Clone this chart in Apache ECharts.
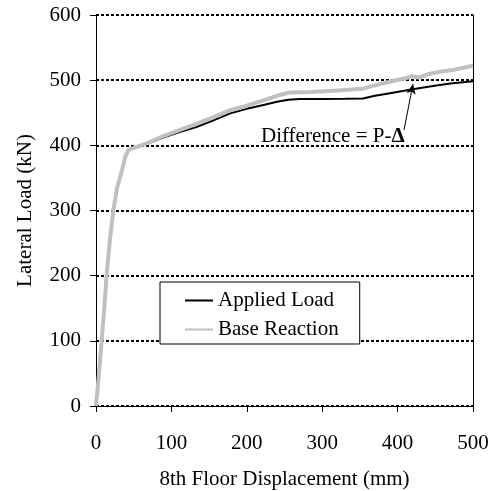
<!DOCTYPE html>
<html>
<head>
<meta charset="utf-8">
<script src="https://cdn.jsdelivr.net/npm/echarts@6/dist/echarts.min.js"></script>
<style>
  html, body { margin: 0; padding: 0; background: #fff; }
  #chart { width: 492px; height: 491px; }
</style>
</head>
<body>
<div id="chart"></div>
<script>
// Pushover response: lateral load vs. 8th floor displacement
const xTicks = [0, 100, 200, 300, 400, 500];
const yTicks = [0, 100, 200, 300, 400, 500, 600];

// [displacement (mm), load (kN)]
const appliedLoad = [
  [0, 0], [4, 50], [7.5, 100], [11, 150], [14, 200], [18, 250], [23, 300],
  [28, 335], [34, 360], [39, 383], [43, 393], [55, 397], [67, 402], [89, 412],
  [110, 420], [133, 428], [155, 438], [178, 449], [200, 456], [222, 462],
  [240, 467], [255, 470], [270, 471], [300, 471], [330, 471.5], [354, 472],
  [370, 476], [390, 480], [420, 486], [447, 491], [470, 495], [500, 498.5]
];

const baseReaction = [
  [0, 0], [4, 50], [7.5, 100], [11, 150], [14, 200], [18, 250], [23, 300],
  [28, 335], [34, 360], [39, 383], [43, 393], [55, 398], [67, 403], [89, 414],
  [110, 423], [133, 433], [155, 443], [178, 454], [200, 461], [222, 469],
  [240, 476], [257, 481], [284, 482], [320, 484], [354, 487], [370, 492],
  [395, 499], [410, 503], [420, 506], [427, 504], [440, 509], [456, 513],
  [475, 516], [500, 522]
];

// annotation arrow: from the label up to the gap between the curves
const arrowFrom = [408.5, 423.5];
const arrowTo = [420.4, 494];

const FONT = 'Liberation Serif';
const chart = echarts.init(document.getElementById('chart'));

chart.setOption({
  animation: false,
  backgroundColor: '#fff',
  textStyle: { fontFamily: FONT, color: '#000' },
  grid: { left: 96, right: 19, top: 15, bottom: 85, containLabel: false, outerBoundsMode: 'none' },
  legend: {
    left: 160, top: 282,
    orient: 'vertical',
    backgroundColor: '#fff',
    borderColor: '#000',
    borderWidth: 1,
    borderRadius: 0,
    padding: [8, 21, 4, 24],
    itemWidth: 28,
    itemHeight: 14,
    itemGap: 8,
    // line-only key: hide the marker drawn on top of the line sample
    itemStyle: { opacity: 0 },
    textStyle: { fontFamily: FONT, fontSize: 21, color: '#000' },
    data: ['Applied Load', 'Base Reaction']
  },
  xAxis: {
    type: 'value',
    min: xTicks[0], max: xTicks[xTicks.length - 1], interval: 100,
    name: '8th Floor Displacement (mm)',
    nameLocation: 'middle',
    nameGap: 63,
    nameTextStyle: { fontFamily: FONT, fontSize: 21, color: '#000' },
    axisLine: { show: true, onZero: false, lineStyle: { color: '#000', width: 1 } },
    axisTick: { show: true, inside: false, length: 6, lineStyle: { color: '#000' } },
    axisLabel: { fontFamily: FONT, fontSize: 21, color: '#000', margin: 27 },
    splitLine: { show: false }
  },
  yAxis: [{
    type: 'value',
    min: yTicks[0], max: yTicks[yTicks.length - 1], interval: 100,
    name: 'Lateral Load (kN)',
    nameLocation: 'middle',
    nameRotate: 90,
    nameGap: 60,
    nameTextStyle: { fontFamily: FONT, fontSize: 21, color: '#000' },
    axisLine: { show: true, lineStyle: { color: '#000', width: 1 } },
    axisTick: { show: true, inside: false, length: 6, lineStyle: { color: '#000' } },
    axisLabel: { fontFamily: FONT, fontSize: 21, color: '#000', margin: 15 },
    splitLine: { show: true, lineStyle: { color: '#000', width: 2, type: [3, 2] } }
  }, {
    type: 'value',
    position: 'right',
    min: yTicks[0], max: yTicks[yTicks.length - 1], interval: 100,
    axisLine: { show: true, lineStyle: { color: '#000', width: 1 } },
    axisTick: { show: false },
    axisLabel: { show: false },
    splitLine: { show: false }
  }],
  graphic: [{
    type: 'text',
    left: 261, top: 126,
    style: {
      text: '{n|Difference = P-}{b|Δ}',
      rich: {
        n: { fontFamily: FONT, fontSize: 21, fill: '#000' },
        b: { fontFamily: FONT, fontSize: 21, fontWeight: 'bold', fill: '#000' }
      }
    }
  }],
  series: [{
    name: 'Applied Load',
    type: 'line',
    data: appliedLoad,
    showSymbol: false,
    symbol: 'none',
    color: '#000',
    lineStyle: { color: '#000', width: 2 },
    z: 2,
    markLine: {
      silent: true,
      symbol: ['none', 'arrow'],
      symbolSize: [7, 10],
      label: { show: false },
      lineStyle: { color: '#000', width: 1, type: 'solid' },
      data: [[{ coord: arrowFrom }, { coord: arrowTo }]]
    }
  }, {
    name: 'Base Reaction',
    type: 'line',
    data: baseReaction,
    showSymbol: false,
    symbol: 'none',
    color: '#c0c0c0',
    lineStyle: { color: '#c0c0c0', width: 4 },
    z: 3
  }]
});
</script>
</body>
</html>
